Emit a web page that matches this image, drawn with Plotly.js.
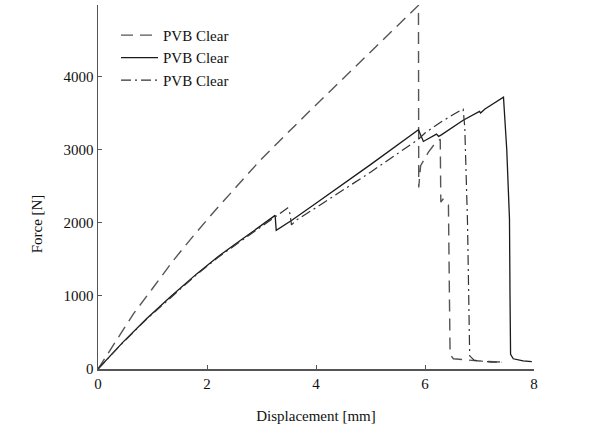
<!DOCTYPE html>
<html>
<head>
<meta charset="utf-8">
<script src="https://cdn.plot.ly/plotly-3.0.1.min.js"></script>
<style>html,body{margin:0;padding:0;background:#fff;}#chart{width:600px;height:427px;}</style>
</head>
<body>
<div id="chart"></div>
<script>
// Series 1 (dashed)
var dashX = [0, 0.3, 0.65, 1.0, 1.38, 1.75, 2.12, 2.55, 2.97, 3.43, 3.89, 4.9, 5.88, 5.885, 5.92, 6.06, 6.2, 6.28, 6.29, 6.33, 6.40, 6.43, 6.46, 6.52, 6.7, 7.0, 7.4];
var dashY = [0, 350, 754, 1100, 1482, 1820, 2142, 2500, 2848, 3190, 3531, 4260, 4970, 2480, 2780, 2960, 3100, 3140, 2280, 2320, 2250, 2240, 200, 140, 125, 110, 95];
// Series 2 (solid)
var solidX = [0, 0.45, 0.89, 1.35, 1.81, 2.2, 2.61, 3.0, 3.25, 3.27, 3.55, 4.0, 5.0, 5.88, 5.97, 6.21, 6.25, 6.3, 6.7, 7.0, 7.02, 7.1, 7.44, 7.5, 7.55, 7.56, 7.57, 7.62, 7.8, 7.96];
var solidY = [0, 360, 686, 1000, 1300, 1535, 1755, 1960, 2100, 1895, 2029, 2266, 2793, 3270, 3110, 3210, 3180, 3200, 3400, 3520, 3500, 3555, 3715, 3000, 2050, 1000, 200, 140, 110, 100];
// Series 3 (dash-dot)
var dotX = [0, 0.45, 0.89, 1.35, 1.81, 2.2, 2.61, 3.0, 3.24, 3.48, 3.52, 3.55, 3.65, 4.0, 5.0, 5.88, 6.0, 6.3, 6.64, 6.70, 6.73, 6.78, 6.82, 6.9, 7.2, 7.4];
var dotY = [0, 355, 680, 990, 1290, 1525, 1745, 1955, 2080, 2200, 2130, 1970, 2040, 2205, 2690, 3140, 3225, 3380, 3530, 3550, 3300, 2000, 180, 120, 95, 90];
var seriesNames = ["PVB Clear", "PVB Clear", "PVB Clear"];
var xTicks = [0, 2, 4, 6, 8];
var yTicks = [0, 1000, 2000, 3000, 4000];

var serif = "Liberation Serif, Times New Roman, serif";
var traces = [
  {x: dashX, y: dashY, name: seriesNames[0], mode: "lines", line: {color: "#555", width: 1.4, dash: "12px,7px"}},
  {x: solidX, y: solidY, name: seriesNames[1], mode: "lines", line: {color: "#1a1a1a", width: 1.3}},
  {x: dotX, y: dotY, name: seriesNames[2], mode: "lines", line: {color: "#333", width: 1.2, dash: "10px,4px,2px,4px"}}
];
var layout = {
  width: 600, height: 427,
  margin: {l: 98, r: 66, t: 5, b: 58},
  paper_bgcolor: "#fff", plot_bgcolor: "#fff",
  font: {family: serif, size: 15, color: "#111"},
  showlegend: true,
  legend: {x: 0.0413, y: 0.962, xanchor: "left", yanchor: "top", itemwidth: 37, bgcolor: "rgba(0,0,0,0)", font: {family: serif, size: 15, color: "#111"}},
  xaxis: {
    range: [0, 8], tickvals: xTicks, ticktext: xTicks.map(String),
    showline: true, linecolor: "#555", linewidth: 1.5, showgrid: false, zeroline: false,
    ticks: "inside", ticklen: 4, tickcolor: "#555", tickwidth: 1,
    tickfont: {family: serif, size: 15, color: "#111"},
    title: {text: "Displacement [mm]", font: {family: serif, size: 15, color: "#111"}, standoff: 20}
  },
  yaxis: {
    range: [0, 4975], tickvals: yTicks, ticktext: yTicks.map(String),
    showline: true, linecolor: "#555", linewidth: 1.5, showgrid: false, zeroline: false,
    ticks: "inside", ticklen: 4, tickcolor: "#555", tickwidth: 1,
    tickfont: {family: serif, size: 15, color: "#111"}
  },
  annotations: [{
    text: "Force [N]", xref: "paper", yref: "paper", x: -0.14, y: 0.40,
    xanchor: "center", yanchor: "middle", textangle: -90, showarrow: false,
    font: {family: serif, size: 15, color: "#111"}
  }]
};
Plotly.newPlot("chart", traces, layout, {displayModeBar: false, staticPlot: true});
</script>
</body>
</html>
